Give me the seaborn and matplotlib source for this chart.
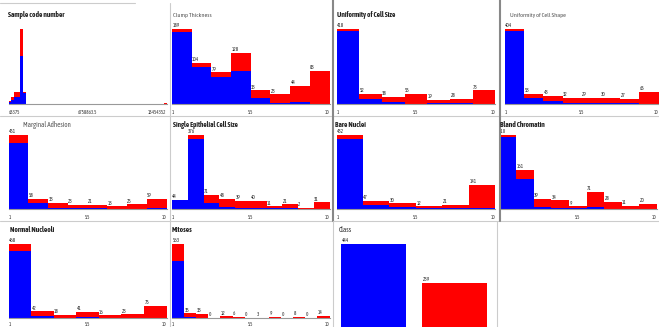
import numpy as np
import pandas as pd
import matplotlib
matplotlib.use("Agg")
import matplotlib.pyplot as plt
import seaborn as sns
from matplotlib.lines import Line2D

# ---- data: per-bin counts, benign (blue) / malignant (red) ----
sample_range = [63375, 13454352]
sample_benign = [8, 20, 40, 40, 274, 62] + [0] * 48
sample_malig = [6, 16, 28, 28, 154, 6] + [0] * 47 + [1]

clump_range = [1, 10]
clump_benign = [182, 92, 67, 83, 15, 1, 4, 0]
clump_malig = [7, 12, 12, 45, 18, 22, 40, 83]

csize_range = [1, 10]
csize_benign = [406, 27, 9, 0, 1, 1, 0]
csize_malig = [12, 25, 29, 55, 18, 27, 73]

cshape_range = [1, 10]
cshape_benign = [395, 31, 12, 3, 1, 1, 1, 0]
cshape_malig = [9, 22, 31, 29, 28, 29, 26, 65]

adhesion_range = [1, 10]
adhesion_benign = [400, 31, 5, 4, 3, 0, 0, 1]
adhesion_malig = [51, 27, 28, 19, 18, 13, 25, 58]

epith_range = [1, 10]
epith_benign = [43, 355, 28, 7, 5, 2, 3, 1, 0, 0]
epith_malig = [1, 21, 43, 41, 34, 38, 8, 20, 2, 31]

nuclei_range = [1, 10]
nuclei_benign = [408, 20, 10, 1, 2, 3]
nuclei_malig = [24, 27, 20, 11, 19, 138]

chromatin_range = [1, 10]
chromatin_benign = [301, 125, 7, 4, 1, 6, 0, 0, 0]
chromatin_malig = [9, 36, 32, 30, 8, 65, 28, 11, 20]

nucleoli_range = [1, 10]
nucleoli_benign = [421, 11, 1, 6, 2, 3, 0]
nucleoli_malig = [47, 31, 17, 35, 14, 20, 75]

mitoses_range = [1, 10]
mitoses_benign = [431, 8, 2, 0, 0, 1, 0, 0, 1, 0, 1, 0, 0]
mitoses_malig = [132, 27, 31, 0, 12, 5, 0, 3, 8, 0, 7, 0, 14]

class_names = ["benign", "malignant"]
class_counts = [444, 239]

BLUE = "#0000ff"
RED = "#ff0000"
pal = {"benign": BLUE, "malignant": RED}

W, H = 659, 327
sns.set_style("white")
plt.rcParams["font.family"] = ["Asap Condensed", "DejaVu Sans"]

fig = plt.figure(figsize=(W / 100, H / 100), dpi=100)


def px_axes(x0, x1, y0, y1):
    return fig.add_axes([x0 / W, 1 - y1 / H, (x1 - x0) / W, (y1 - y0) / H])


def fmt(v):
    return str(int(v)) if float(v).is_integer() else str(v)


def hist_panel(title, rng, benign, malig, box, title_xy, bold=True, tsize=5.2,
               labels=True, tick_pad=1.5):
    x0, x1, y0, y1 = box
    ax = px_axes(x0, x1, y0, y1)
    n = len(benign)
    edges = np.linspace(rng[0], rng[1], n + 1)
    centers = (edges[:-1] + edges[1:]) / 2
    df = pd.DataFrame({
        "x": np.concatenate([centers, centers]),
        "count": benign + malig,
        "cls": ["benign"] * n + ["malignant"] * n,
    })
    sns.histplot(data=df, x="x", weights="count", hue="cls",
                 hue_order=["malignant", "benign"], palette=pal,
                 multiple="stack", bins=n, binrange=(rng[0], rng[1]),
                 alpha=1, linewidth=0, legend=False, ax=ax)
    totals = [b + m for b, m in zip(benign, malig)]
    ax.set_xlim(rng[0], rng[1])
    ax.set_ylim(0, max(totals))
    if labels:
        for e, t in zip(edges[:-1], totals):
            ax.annotate(str(t), (e, t), xytext=(0.3, 0.6), textcoords="offset points",
                        ha="left", va="bottom", fontsize=3.6, color="#222222",
                        annotation_clip=False)
    mid = (rng[0] + rng[1]) / 2
    ax.set_xticks([rng[0], mid, rng[1]])
    ax.set_xticklabels([fmt(rng[0]), fmt(mid), fmt(rng[1])])
    tl = ax.get_xticklabels()
    tl[0].set_ha("left")
    tl[-1].set_ha("right")
    ax.tick_params(axis="x", length=3, width=0.6, color="#555555",
                   labelsize=3.5, pad=tick_pad, labelcolor="#333333")
    ax.set_yticks([])
    ax.set_xlabel("")
    ax.set_ylabel("")
    for s in ["left", "right", "top"]:
        ax.spines[s].set_visible(False)
    ax.spines["bottom"].set_color("#999999")
    ax.spines["bottom"].set_linewidth(0.8)
    fig.text(title_xy[0] / W, 1 - title_xy[1] / H, title, ha="left", va="center",
             fontsize=tsize, fontweight="bold" if bold else "normal",
             color="#222222" if bold else "#555555")
    return ax


r1 = (29, 103.5)
r2 = (135, 208.5)
r3 = (244, 318)

hist_panel("Sample code number", sample_range, sample_benign, sample_malig,
           (8.5, 166.5) + r1, (8, 15), labels=False)
hist_panel("Clump Thickness", clump_range, clump_benign, clump_malig,
           (172, 329.5) + r1, (173, 15), bold=False, tsize=4.5)
hist_panel("Uniformity of Cell Size", csize_range, csize_benign, csize_malig,
           (336.5, 495.5) + r1, (337, 15))
hist_panel("Uniformity of Cell Shape", cshape_range, cshape_benign, cshape_malig,
           (505, 658.5) + r1, (510, 15), bold=False, tsize=4.5)

hist_panel("Marginal Adhesion", adhesion_range, adhesion_benign, adhesion_malig,
           (8.5, 166.5) + r2, (23, 125), bold=False, tsize=5)
hist_panel("Single Epithelial Cell Size", epith_range, epith_benign, epith_malig,
           (172, 329.5) + r2, (173, 125), tsize=5)
hist_panel("Bare Nuclei", nuclei_range, nuclei_benign, nuclei_malig,
           (336.5, 495.5) + r2, (335, 125))
hist_panel("Bland Chromatin", chromatin_range, chromatin_benign, chromatin_malig,
           (498.5, 657) + r2, (500, 125))

hist_panel("Normal Nucleoli", nucleoli_range, nucleoli_benign, nucleoli_malig,
           (8.5, 166.5) + r3, (10, 230), tick_pad=0.2)
hist_panel("Mitoses", mitoses_range, mitoses_benign, mitoses_malig,
           (172, 329.5) + r3, (172, 230), tick_pad=0.2)

# Class (nominal)
axc = px_axes(333, 495, 244, 328)
sns.barplot(x=class_names, y=class_counts, hue=class_names, palette=pal,
            width=0.8, linewidth=0, saturation=1, legend=False, ax=axc)
axc.set_xlim(-0.5, 1.5)
axc.set_ylim(0, max(class_counts))
for i, c in enumerate(class_counts):
    axc.annotate(str(c), (i - 0.4, c), xytext=(0.3, 0.6), textcoords="offset points",
                 ha="left", va="bottom", fontsize=3.6, color="#222222",
                 annotation_clip=False)
axc.axis("off")
fig.text(339 / W, 1 - 230 / H, "Class", ha="left", va="center",
         fontsize=5.2, color="#333333")

# panel separators
def seg(xa, xb, ya, yb, color="#cccccc", lw=0.8):
    fig.add_artist(Line2D([xa / W, xb / W], [1 - ya / H, 1 - yb / H],
                          color=color, lw=lw))

seg(0, 135, 3, 3)
seg(0, W, 116, 116)
seg(0, W, 221, 221)
seg(170, 170, 3, H)
seg(333, 333, 0, 221, color="#888888", lw=1.5)
seg(333, 333, 221, H)
seg(499.5, 499.5, 0, 221, color="#888888", lw=1.5)
seg(497, 497, 221, H)

fig.savefig("out.png", dpi=100)
